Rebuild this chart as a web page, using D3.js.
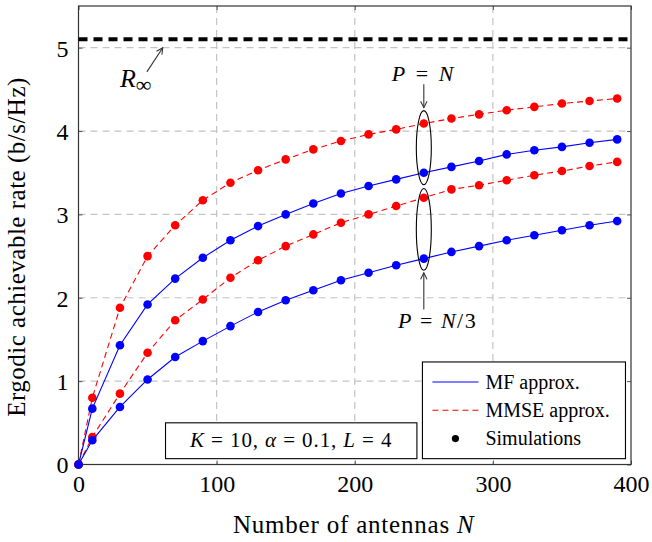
<!DOCTYPE html>
<html>
<head>
<meta charset="utf-8">
<script src="https://cdn.jsdelivr.net/npm/d3@7"></script>
<style>
  body { margin: 0; background: #fff; }
</style>
</head>
<body>
<div id="chart"></div>
<script>
// antenna counts used for the points
const antennas = [0, 10, 30, 50, 70, 90, 110, 130, 150, 170, 190, 210, 230, 250, 270, 290, 310, 330, 350, 370, 390];

// P = N
const mmseFull = [0, 0.80, 1.88, 2.50, 2.87, 3.17, 3.38, 3.53, 3.66, 3.78, 3.88, 3.96, 4.02, 4.09, 4.15, 4.20, 4.25, 4.29, 4.33, 4.36, 4.39];
const mfFull   = [0, 0.67, 1.43, 1.92, 2.23, 2.48, 2.69, 2.86, 3.00, 3.13, 3.25, 3.34, 3.42, 3.50, 3.57, 3.64, 3.72, 3.77, 3.81, 3.86, 3.90];
// P = N/3
const mmseThird = [0, 0.33, 0.85, 1.34, 1.73, 1.98, 2.24, 2.45, 2.62, 2.76, 2.90, 3.00, 3.10, 3.20, 3.30, 3.35, 3.41, 3.47, 3.52, 3.58, 3.63];
const mfThird   = [0, 0.29, 0.69, 1.02, 1.29, 1.48, 1.66, 1.83, 1.97, 2.09, 2.21, 2.30, 2.39, 2.47, 2.55, 2.62, 2.69, 2.75, 2.81, 2.87, 2.92];

const rInf = 5.1;
const xTicks = [0, 100, 200, 300, 400];
const yTicks = [0, 1, 2, 3, 4, 5];

const FONT = "Liberation Serif, DejaVu Serif, serif";

const W = 652, H = 542;
const margin = {top: 6, right: 21, bottom: 77.5, left: 78.5};
const width = W - margin.left - margin.right;
const height = H - margin.top - margin.bottom;

const svg = d3.select("#chart").append("svg")
    .attr("width", W)
    .attr("height", H)
    .attr("font-family", FONT);

const g = svg.append("g")
    .attr("transform", `translate(${margin.left},${margin.top})`);

const x = d3.scaleLinear().domain([0, 400]).range([0, width]);
const y = d3.scaleLinear().domain([0, 5.5]).range([height, 0]);

// grid
g.append("g").selectAll("line")
    .data(xTicks.filter(d => d > 0 && d < 400))
    .join("line")
    .attr("x1", d => x(d)).attr("x2", d => x(d))
    .attr("y1", 0).attr("y2", height)
    .attr("stroke", "#c4c4c4").attr("stroke-width", 1.2)
    .attr("stroke-dasharray", "7,5");

g.append("g").selectAll("line")
    .data(yTicks.filter(d => d > 0))
    .join("line")
    .attr("x1", 0).attr("x2", width)
    .attr("y1", d => y(d)).attr("y2", d => y(d))
    .attr("stroke", "#c4c4c4").attr("stroke-width", 1.2)
    .attr("stroke-dasharray", "7,5");

// axes with inner ticks
const xAxis = d3.axisBottom(x).tickValues(xTicks).tickFormat(d3.format("d")).tickSize(-4).tickPadding(9);
const yAxis = d3.axisLeft(y).tickValues(yTicks).tickFormat(d3.format("d")).tickSize(-4).tickPadding(10);

const gx = g.append("g").attr("transform", `translate(0,${height})`).call(xAxis);
const gy = g.append("g").call(yAxis);
g.append("g").call(d3.axisTop(x).tickValues(xTicks).tickSize(-4).tickFormat(""));
g.append("g").attr("transform", `translate(${width},0)`)
    .call(d3.axisRight(y).tickValues(yTicks).tickSize(-4).tickFormat(""));

svg.selectAll(".domain").remove();
svg.selectAll(".tick line").attr("stroke", "#555");
svg.selectAll(".tick text").attr("fill", "#000");
gx.selectAll("text").attr("font-size", 24).attr("dy", "0.75em");
gy.selectAll("text").attr("font-size", 24).attr("dy", "0.35em");

g.append("rect")
    .attr("width", width).attr("height", height)
    .attr("fill", "none").attr("stroke", "#333").attr("stroke-width", 1.2);

// R infinity
g.append("line")
    .attr("x1", 0).attr("x2", width)
    .attr("y1", y(rInf)).attr("y2", y(rInf))
    .attr("stroke", "#000").attr("stroke-width", 4)
    .attr("stroke-dasharray", "9,6");

// curves
const series = [
    {vals: mmseFull, color: "#ff0000", dash: "6,4"},
    {vals: mfFull, color: "#0000ff", dash: null},
    {vals: mmseThird, color: "#ff0000", dash: "6,4"},
    {vals: mfThird, color: "#0000ff", dash: null}
];

const line = d3.line()
    .x((d, i) => x(antennas[i]))
    .y(d => y(d));

series.forEach(function (s) {
    g.append("path")
        .datum(s.vals)
        .attr("d", line)
        .attr("fill", "none")
        .attr("stroke", s.color)
        .attr("stroke-width", 1.1)
        .attr("stroke-dasharray", s.dash);
    g.append("g").selectAll("circle")
        .data(s.vals)
        .join("circle")
        .attr("cx", (d, i) => x(antennas[i]))
        .attr("cy", d => y(d))
        .attr("r", 4.3)
        .attr("fill", s.color);
});

// annotations
const defs = svg.append("defs");
defs.append("marker")
    .attr("id", "arr")
    .attr("viewBox", "0 0 10 10")
    .attr("refX", 9).attr("refY", 5)
    .attr("markerWidth", 8).attr("markerHeight", 8)
    .attr("markerUnits", "userSpaceOnUse")
    .attr("orient", "auto-start-reverse")
    .append("path")
    .attr("d", "M1,1 L9,5 L1,9")
    .attr("fill", "none").attr("stroke", "#333").attr("stroke-width", 1.3);

function arrow(x1, y1, x2, y2) {
    g.append("line")
        .attr("x1", x1).attr("y1", y1).attr("x2", x2).attr("y2", y2)
        .attr("stroke", "#333").attr("stroke-width", 1.1)
        .attr("marker-end", "url(#arr)");
}

// R_inf label
const rl = g.append("text")
    .attr("x", x(30)).attr("y", y(4.53))
    .attr("font-size", 26);
rl.append("tspan").attr("font-style", "italic").text("R");
rl.append("tspan").attr("dy", 5).attr("font-size", 22).text("∞");
arrow(x(49.5), y(4.71), x(61), y(5.0));

// ellipses
const ell = [{cy: 3.80, ry: 0.445}, {cy: 2.82, ry: 0.49}];
ell.forEach(function (e) {
    g.append("ellipse")
        .attr("cx", x(250)).attr("cy", y(e.cy))
        .attr("rx", 7.5).attr("ry", y(0) - y(e.ry))
        .attr("fill", "none").attr("stroke", "#000").attr("stroke-width", 1.1);
});

function mathLabel(cx, cy, parts, size, spacing) {
    const t = g.append("text")
        .attr("x", cx).attr("y", cy)
        .attr("text-anchor", "middle")
        .attr("font-size", size)
        .attr("letter-spacing", spacing);
    parts.forEach(p => t.append("tspan").attr("font-style", p[1] ? "italic" : null).text(p[0]));
    return t;
}

mathLabel(x(250), y(4.6), [["P", 1], [" = ", 0], ["N", 1]], 22, 2.5);
arrow(x(250), y(4.56), x(250), y(4.28));
mathLabel(x(260), y(1.64), [["P", 1], [" = ", 0], ["N", 1], ["/3", 0]], 22, 1.5);
arrow(x(250), y(1.86), x(250), y(2.30));

// parameter box
const bx = x(63), bw = x(245) - x(63);
g.append("rect")
    .attr("x", bx).attr("y", y(0.5)).attr("width", bw).attr("height", y(0.07) - y(0.5))
    .attr("fill", "#fff").attr("stroke", "#000").attr("stroke-width", 1.1);
mathLabel(bx + bw / 2, y(0.21),
    [["K", 1], [" = 10, ", 0], ["α", 1], [" = 0.1, ", 0], ["L", 1], [" = 4", 0]], 21, 0.9);

// legend
const lx = x(249), ly = y(1.23);
const legend = g.append("g").attr("transform", `translate(${lx},${ly})`);
legend.append("rect")
    .attr("width", x(396) - x(249)).attr("height", y(0.07) - y(1.23))
    .attr("fill", "#fff").attr("stroke", "#000").attr("stroke-width", 1.1);
const items = [
    {label: "MF approx.", color: "#0000ff", dash: null, dot: false},
    {label: "MMSE approx.", color: "#ff0000", dash: "6,4", dot: false},
    {label: "Simulations", color: "#000", dash: null, dot: true}
];
items.forEach(function (it, i) {
    const yy = 20 + i * 28.3;
    if (it.dot) {
        legend.append("circle").attr("cx", 33).attr("cy", yy).attr("r", 3.6).attr("fill", "#000");
    } else {
        legend.append("line")
            .attr("x1", 10).attr("x2", 56).attr("y1", yy).attr("y2", yy)
            .attr("stroke", it.color).attr("stroke-width", 1.1)
            .attr("stroke-dasharray", it.dash);
    }
    legend.append("text")
        .attr("x", 63).attr("y", yy).attr("dy", "0.33em")
        .attr("font-size", 20)
        .text(it.label);
});

// axis titles
const xt = svg.append("text")
    .attr("x", margin.left + x(200) - 1).attr("y", 533)
    .attr("text-anchor", "middle")
    .attr("font-size", 25)
    .attr("letter-spacing", 0.8);
xt.append("tspan").text("Number of antennas ");
xt.append("tspan").attr("font-style", "italic").text("N");

svg.append("text")
    .attr("transform", `translate(25,${247}) rotate(-90)`)
    .attr("text-anchor", "middle")
    .attr("font-size", 25)
    .attr("letter-spacing", 0.5)
    .text("Ergodic achievable rate (b/s/Hz)");

// serif everywhere, set on each node
svg.selectAll("text, tspan").attr("font-family", FONT);
</script>
</body>
</html>
